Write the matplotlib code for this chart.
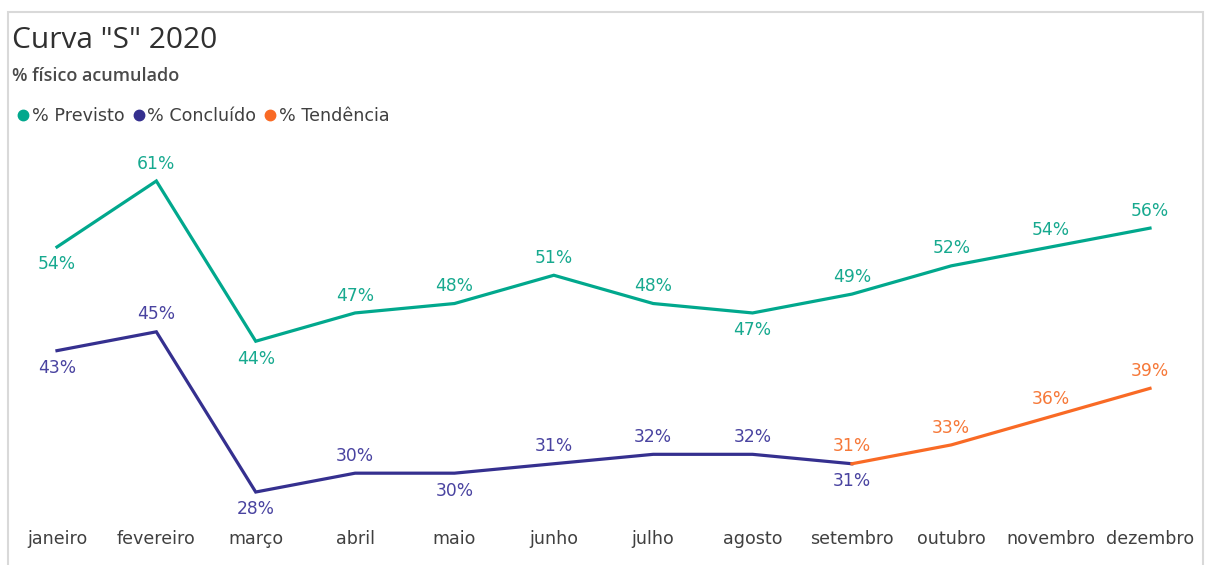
import matplotlib
matplotlib.use("Agg")
import matplotlib.pyplot as plt
from matplotlib.patches import Rectangle
from matplotlib.lines import Line2D

meses = ["janeiro", "fevereiro", "março", "abril", "maio", "junho", "julho",
         "agosto", "setembro", "outubro", "novembro", "dezembro"]
previsto = [54, 61, 44, 47, 48, 51, 48, 47, 49, 52, 54, 56]
concluido = [43, 45, 28, 30, 30, 31, 32, 32, 31]
tendencia_idx = [8, 9, 10, 11]
tendencia = [31, 33, 36, 39]

# label placement: 1 = above, -1 = below
prev_pos = [-1, 1, -1, 1, 1, 1, 1, -1, 1, 1, 1, 1]
conc_pos = [-1, 1, -1, 1, -1, 1, 1, 1, -1]
tend_pos = [1, 1, 1, 1]

c_prev = "#01A88D"
c_conc = "#35308F"
c_tend = "#F96A25"
lc_prev = "#17A98F"
lc_conc = "#4943A0"
lc_tend = "#F67838"

W, H = 1205, 565
fig = plt.figure(figsize=(W / 100, H / 100), dpi=100)

x_left = 7.3
x_right = 1199.7
y_top = 143.3
y_bot = 520.3
ax = fig.add_axes([x_left / W, (H - y_bot) / H, (x_right - x_left) / W, (y_bot - y_top) / H])
ax.set_xlim(-0.5, 11.5)
ax.set_ylim(25, 65)

xs = list(range(len(meses)))
ax.plot(xs, previsto, color=c_prev, lw=2.3, solid_joinstyle="miter")
ax.plot(xs[:len(concluido)], concluido, color=c_conc, lw=2.3, solid_joinstyle="miter")
ax.plot(tendencia_idx, tendencia, color=c_tend, lw=2.3, solid_joinstyle="miter")

def labels(xv, yv, pos, color):
    for x, y, p in zip(xv, yv, pos):
        ax.annotate(f"{y}%", (x, y), xytext=(0, 12.5 * p), textcoords="offset points",
                    ha="center", va="center", color=color, fontsize=12.3,
                    family="DejaVu Sans")

labels(xs, previsto, prev_pos, lc_prev)
labels(xs[:len(concluido)], concluido, conc_pos, lc_conc)
labels(tendencia_idx, tendencia, tend_pos, lc_tend)

ax.set_xticks(xs)
ax.set_xticklabels(meses, fontsize=12.6, color="#404040", family="DejaVu Sans")
ax.tick_params(axis="x", length=0, pad=7)
ax.set_yticks([])
for s in ax.spines.values():
    s.set_visible(False)
ax.patch.set_alpha(0)

fig.patches.append(Rectangle((8 / W, -0.01), (1203 - 8) / W, (H - 12) / H + 0.01,
                             transform=fig.transFigure, fill=False,
                             edgecolor="#D9D9D9", lw=1.5))

fig.text(12 / W, 1 - 40 / H, 'Curva "S" 2020', fontsize=21.5, color="#303030",
         family="Open Sans", va="center", ha="left")
fig.text(12 / W, 1 - 76 / H, '% físico acumulado', fontsize=13, color="#4A4A4A",
         family="Open Sans", fontweight="semibold", va="center", ha="left")

handles = [Line2D([], [], marker="o", ls="none", color=c, markersize=7.5)
           for c in (c_prev, c_conc, c_tend)]
leg = fig.legend(handles, ["% Previsto", "% Concluído", "% Tendência"],
                 loc="center left", bbox_to_anchor=(18 / W, 1 - 116 / H), ncol=3,
                 frameon=False, handlelength=0.6, handletextpad=0.2,
                 columnspacing=0.5, borderaxespad=0, borderpad=0,
                 prop={"family": "DejaVu Sans", "size": 12.6})
for t in leg.get_texts():
    t.set_color("#404040")

fig.savefig("out.png", dpi=100)
